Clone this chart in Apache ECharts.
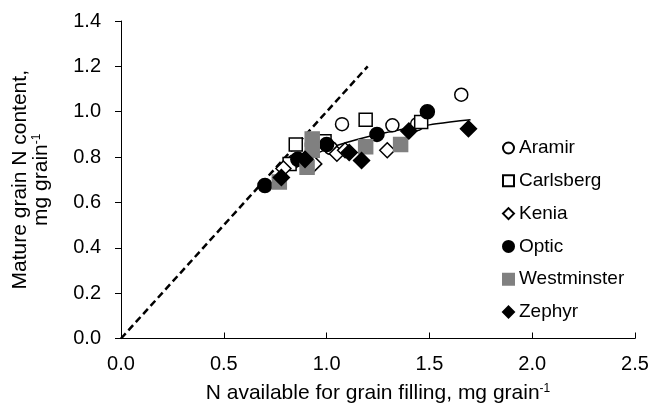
<!DOCTYPE html>
<html><head><meta charset="utf-8">
<script src="https://cdn.jsdelivr.net/npm/echarts@6/dist/echarts.min.js"></script>
<style>html,body{margin:0;padding:0;background:#fff}#c{width:654px;height:409px}</style>
</head><body><div id="c"></div>
<script>
const seriesNames = ['Aramir','Carlsberg','Kenia','Optic','Westminster','Zephyr'];
const aramir = [[0.84,0.78],[1.02,0.84],[1.075,0.945],[1.32,0.94],[1.44,0.945],[1.655,1.075]];
const carlsberg = [[0.82,0.77],[0.85,0.855],[0.99,0.87],[1.19,0.965],[1.46,0.955]];
const kenia = [[0.79,0.75],[0.94,0.77],[1.05,0.815],[1.09,0.83],[1.295,0.83]];
const optic = [[0.70,0.675],[0.86,0.79],[1.0,0.855],[1.245,0.90],[1.49,1.0]];
const westminster = [[0.77,0.69],[0.905,0.755],[0.93,0.88],[0.93,0.83],[1.19,0.845],[1.36,0.855]];
const zephyr = [[0.78,0.71],[0.895,0.79],[1.11,0.82],[1.17,0.785],[1.40,0.915],[1.69,0.925]];
const oneToOne = [[0,0],[1.2,1.2]];
const fitCurve = [[0.92,0.80],[1.0,0.835],[1.1,0.865],[1.2,0.89],[1.3,0.91],[1.4,0.928],[1.5,0.942],[1.6,0.955],[1.7,0.965]];
const xTicks = [0,0.5,1.0,1.5,2.0,2.5];
const yTicks = [0,0.2,0.4,0.6,0.8,1.0,1.2,1.4];

const FONT = 'Liberation Sans';
const chart = echarts.init(document.getElementById('c'));
function sc(name, data, symbol, size, fill, border){
  return {name, type:'scatter', data, symbol, symbolSize:size, z:3,
    itemStyle:{color:fill, borderColor:border, borderWidth:1.5, opacity:1}};
}
chart.setOption({
  animation:false,
  textStyle:{fontFamily:FONT},
  grid:{left:121, right:19, top:21, bottom:68},
  xAxis:{type:'value', min:xTicks[0], max:xTicks[xTicks.length-1], interval:0.5,
    axisLine:{lineStyle:{color:'#000', width:1}},
    axisTick:{show:true, inside:true, length:6, lineStyle:{color:'#000'}},
    axisLabel:{color:'#000', fontSize:20, margin:16, formatter:v=>v.toFixed(1)},
    splitLine:{show:false},
    name:'{a|N available for grain filling, mg grain}{s|-1}',
    nameLocation:'middle', nameGap:44,
    nameTextStyle:{rich:{a:{fontSize:21, color:'#000', fontFamily:FONT, lineHeight:22},
      s:{fontSize:12, color:'#000', fontFamily:FONT, verticalAlign:'top', lineHeight:14}}}
  },
  yAxis:{type:'value', min:yTicks[0], max:yTicks[yTicks.length-1], interval:0.2,
    axisLine:{show:true, lineStyle:{color:'#000', width:1}},
    axisTick:{show:true, inside:false, length:6, lineStyle:{color:'#000'}},
    axisLabel:{color:'#000', fontSize:20, margin:20, formatter:v=>v.toFixed(1)},
    splitLine:{show:false},
    name:'{a|Mature grain N content,}\n{a|mg grain}{s|-1}',
    nameLocation:'middle', nameGap:69, nameRotate:90,
    nameTextStyle:{align:'center', rich:{a:{fontSize:21, color:'#000', fontFamily:FONT, lineHeight:21, align:'center'},
      s:{fontSize:12, color:'#000', fontFamily:FONT, verticalAlign:'top', lineHeight:14}}}
  },
  legend:{orient:'vertical', left:502, top:138, padding:0, itemWidth:11, itemHeight:11, itemGap:12.8,
    data:seriesNames,
    textStyle:{fontSize:19, color:'#000', fontFamily:FONT, lineHeight:20}},
  series:[
    {type:'line', data:oneToOne, symbol:'none', silent:true, z:1,
      lineStyle:{color:'#000', width:2.5, type:[7,4]}},
    {type:'line', data:fitCurve, symbol:'none', smooth:true, silent:true, z:2,
      lineStyle:{color:'#000', width:1.5}},
    sc('Aramir', aramir, 'circle', 13, '#fff', '#000'),
    sc('Carlsberg', carlsberg, 'rect', 13, '#fff', '#000'),
    sc('Kenia', kenia, 'diamond', 15, '#fff', '#000'),
    sc('Optic', optic, 'circle', 14, '#000', '#000'),
    sc('Westminster', westminster, 'rect', 14, '#808080', '#808080'),
    sc('Zephyr', zephyr, 'diamond', 16, '#000', '#000')
  ]
});
</script></body></html>
